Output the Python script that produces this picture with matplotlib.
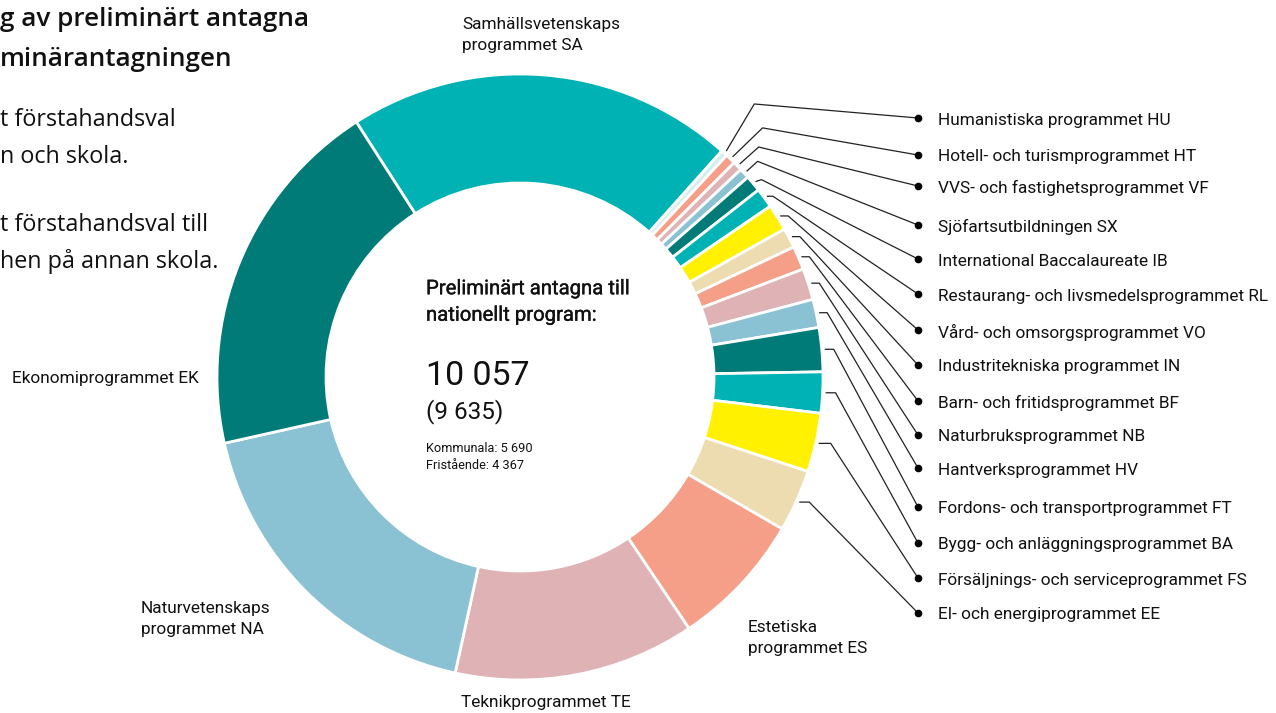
import numpy as np
import matplotlib
matplotlib.use("Agg")
import matplotlib.pyplot as plt
import matplotlib.patheffects as pe

# ---------------- data ----------------
programs = ["Samhällsvetenskaps\nprogrammet SA", "Humanistiska programmet HU",
            "Hotell- och turismprogrammet HT", "VVS- och fastighetsprogrammet VF",
            "Sjöfartsutbildningen SX", "International Baccalaureate IB",
            "Restaurang- och livsmedelsprogrammet RL", "Vård- och omsorgsprogrammet VO",
            "Industritekniska programmet IN", "Barn- och fritidsprogrammet BF",
            "Naturbruksprogrammet NB", "Hantverksprogrammet HV",
            "Fordons- och transportprogrammet FT", "Bygg- och anläggningsprogrammet BA",
            "Försäljnings- och serviceprogrammet FS", "El- och energiprogrammet EE",
            "Estetiska\nprogrammet ES", "Teknikprogrammet TE",
            "Naturvetenskaps\nprogrammet NA", "Ekonomiprogrammet EK"]
admitted = [2073, 35, 55, 50, 55, 87, 106, 142, 106, 126,
            168, 151, 235, 219, 314, 332, 724, 1288, 1810, 1947]

center_title = "Preliminärt antagna till\nnationellt program:"
total_text = "10 057"
prev_text = "(9 635)"
kommunala = "Kommunala: 5 690"
fristaende = "Fristående: 4 367"

heading = ["g av preliminärt antagna", "minärantagningen"]
intro = ["t förstahandsval", "n och skola.", "t förstahandsval till", "hen på annan skola."]

# ---------------- style ----------------
TEAL, DTEAL, LBLUE, PINK = "#00B2B3", "#007B78", "#8AC2D4", "#DFB3B6"
SALMON, BEIGE, YELLOW, LCYAN = "#F59E88", "#ECDCB0", "#FFF100", "#D4EEEE"
colors = [TEAL, LCYAN, SALMON, PINK, LBLUE, DTEAL, TEAL, YELLOW, BEIGE, SALMON,
          PINK, LBLUE, DTEAL, TEAL, YELLOW, BEIGE, SALMON, PINK, LBLUE, DTEAL]

W, H = 1276, 713
fig = plt.figure(figsize=(W / 100, H / 100), dpi=100)
ax = fig.add_axes([0, 0, 1, 1])
ax.set_xlim(0, W)
ax.set_ylim(0, H)
ax.set_aspect("equal")
ax.axis("off")

def Y(y):
    return H - y

CX, CY, R = 520, 377, 303
RIN = 194
START = 122.7

wedges, _ = ax.pie(admitted, colors=colors, startangle=START, counterclock=False,
                   radius=R, center=(CX, Y(CY)),
                   wedgeprops=dict(width=R - RIN, edgecolor="white", linewidth=2))
ax.set_xlim(0, W)
ax.set_ylim(0, H)

LF = "Roboto"
lfs = 12.4
TXT = "#111111"

# outer labels (big slices)
ax.text(462, Y(35), programs[0], fontsize=lfs, family=LF, color=TXT, va="center", ha="left", linespacing=1.45)
ax.text(12, Y(378), programs[19], fontsize=lfs, family=LF, color=TXT, va="center", ha="left")
ax.text(141, Y(619), programs[18], fontsize=lfs, family=LF, color=TXT, va="center", ha="left", linespacing=1.45)
ax.text(461, Y(703), programs[17], fontsize=lfs, family=LF, color=TXT, va="center", ha="left")
ax.text(748, Y(638), programs[16], fontsize=lfs, family=LF, color=TXT, va="center", ha="left", linespacing=1.45)

# leader-line labels (small slices, index 1..15)
label_y = [120, 157, 188, 227, 261, 296, 332, 367, 403, 437, 470, 509, 545, 580, 615]
elbow = [(28, -47), (30, -29), (19, -17), (11, -10), (6, -2), (6, 0), (8, 0), (8, 0),
         (8, 0), (8, 0), (8, 0), (9, 0), (10, 0), (12, 0), (10, 0)]
DOTX, TXTX = 918, 938
for k, idx in enumerate(range(1, 16)):
    w = wedges[idx]
    mid = np.deg2rad((w.theta1 + w.theta2) / 2)
    sx = CX + (R + 3) * np.cos(mid)
    sy = Y(CY) + (R + 3) * np.sin(mid)
    ex, ey = sx + elbow[k][0], sy - elbow[k][1]
    ty = Y(label_y[k] - 2)
    ax.plot([sx, ex, DOTX], [sy, ey, ty], color="#222222", lw=0.9, solid_capstyle="butt")
    ax.plot([DOTX], [ty], "o", color="black", ms=4.5)
    ax.text(TXTX, Y(label_y[k]), programs[idx], fontsize=lfs, family=LF, color=TXT,
            va="center", ha="left")

# center text
ax.text(426, Y(302), center_title, fontsize=14.6, family=LF, color=TXT,
        va="center", ha="left", linespacing=1.5,
        path_effects=[pe.withStroke(linewidth=0.25, foreground=TXT)])
ax.text(426, Y(376), total_text, fontsize=24.5, family=LF, color=TXT, va="center", ha="left")
ax.text(426, Y(412), prev_text, fontsize=17.5, family=LF, color=TXT, va="center", ha="left")
ax.text(426, Y(457), kommunala + "\n" + fristaende, fontsize=9.2, family=LF, color=TXT,
        va="center", ha="left", linespacing=1.45)

# cut-off heading / intro text at the top left (only the visible part)
TF = "Open Sans"
ax.text(0, Y(20), heading[0], fontsize=18.8, family=TF, color=TXT,
        fontweight="semibold", va="center", ha="left")
ax.text(0, Y(60), heading[1], fontsize=18.8, family=TF, color=TXT,
        fontweight="semibold", va="center", ha="left")
ax.text(0, Y(120), intro[0], fontsize=16.8, family=TF, color=TXT, va="center", ha="left")
ax.text(0, Y(157), intro[1], fontsize=16.8, family=TF, color=TXT, va="center", ha="left")
ax.text(0, Y(225), intro[2], fontsize=16.8, family=TF, color=TXT, va="center", ha="left")
ax.text(0, Y(262), intro[3], fontsize=16.8, family=TF, color=TXT, va="center", ha="left")

fig.savefig("out.png", dpi=100, facecolor="white")
